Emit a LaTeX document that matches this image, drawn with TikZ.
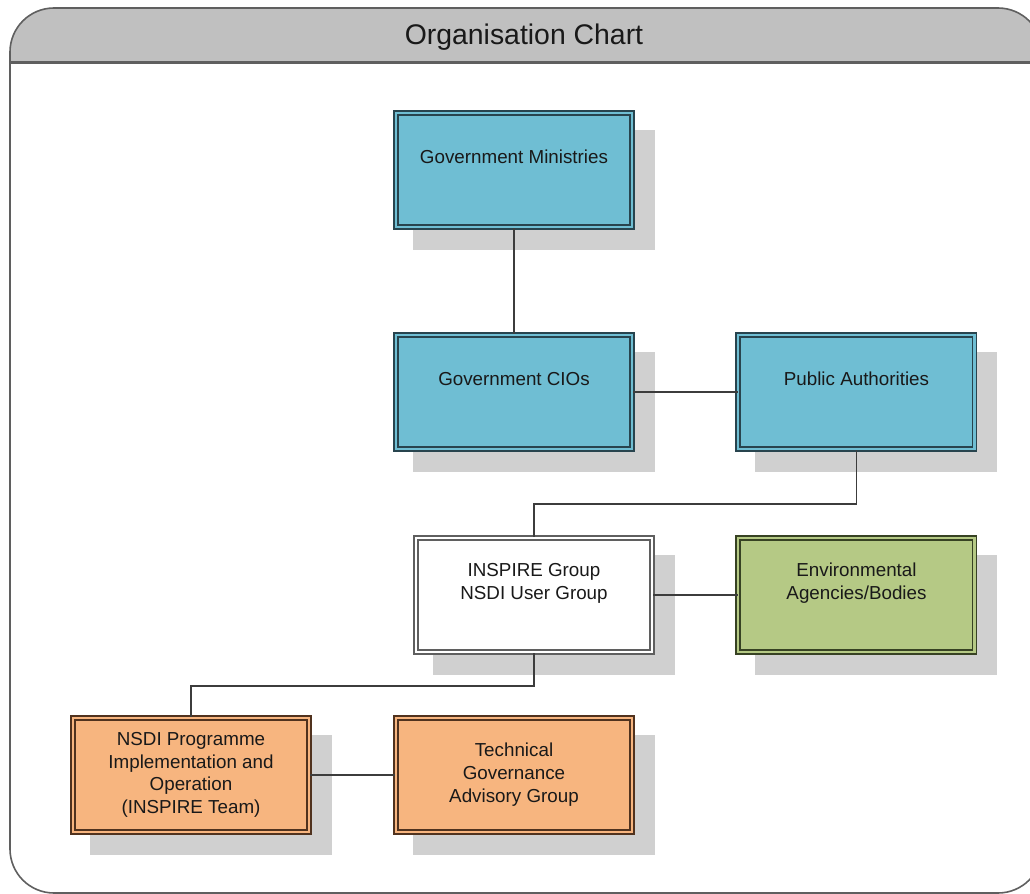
\documentclass[tikz,border=0pt]{standalone}
\usepackage{fontspec}
\setmainfont{Liberation Sans}
\usetikzlibrary{matrix,shadows}

\definecolor{ciblue}{RGB}{111,190,211}
\definecolor{ciblueline}{RGB}{40,68,78}
\definecolor{envgreen}{RGB}{181,201,133}
\definecolor{envline}{RGB}{55,66,35}
\definecolor{teamorange}{RGB}{247,181,127}
\definecolor{teamline}{RGB}{80,50,30}
\definecolor{shadowgray}{RGB}{208,208,208}
\definecolor{headgray}{RGB}{192,192,192}
\definecolor{framegray}{RGB}{95,95,95}
\definecolor{linkgray}{RGB}{60,60,60}

% lines of a box text (kept out of the matrix's own \\)
\newcommand{\orgtext}[1]{\begin{tabular}{@{}c@{}}#1\end{tabular}}

\tikzset{
  orgbox/.style={draw=#1, line width=0.8pt, double distance=1.2pt,
    anchor=center, minimum width=118.2pt, minimum height=57.2pt, inner sep=0pt,
    text=black!90, font=\fontsize{9.4}{11.4}\selectfont,
    drop shadow={shadow xshift=10pt, shadow yshift=-10pt, opacity=1,
      fill=shadowgray, draw=shadowgray, line width=2.8pt}},
  ministry/.style={orgbox=ciblueline, fill=ciblue, double=ciblue},
  usergroup/.style={orgbox=framegray, fill=white, double=white},
  agency/.style={orgbox=envline, fill=envgreen, double=envgreen},
  team/.style={orgbox=teamline, fill=teamorange, double=teamorange},
  link/.style={draw=linkgray, line width=0.75pt},
}

\begin{document}
\begin{tikzpicture}
\useasboundingbox (0,0) rectangle (515pt,-447pt);

% frame with title bar
\begin{scope}
  \clip (0,-31pt) rectangle (530pt,0);
  \fill[headgray, rounded corners=22pt] (5pt,-4pt) rectangle (521pt,-446.5pt);
\end{scope}
\draw[framegray, line width=0.8pt, rounded corners=22pt] (5pt,-4pt) rectangle (521pt,-446.5pt);
\draw[framegray, line width=1.5pt] (5pt,-31pt) -- (521pt,-31pt);
\node[font=\fontsize{14.2}{17}\selectfont, text=black!90] (title) at (262pt,-18.5pt) {Organisation Chart};

\matrix (chart) [matrix of nodes, column sep={161.5pt,between origins},
  row sep={91pt,between origins}, matrix anchor=gm.center] at (257pt,-85pt)
{
                              & |[ministry](gm)| \orgtext{Government Ministries\\\mbox{}} & \\[20pt]
                              & |[ministry](gc)| \orgtext{Government CIOs\\\mbox{}}
                                & |[ministry, xshift=9.75pt](pa)| \orgtext{Public Authorities\\\mbox{}} \\[9.5pt]
                              & |[usergroup, xshift=10pt, yshift=-1pt](inspire)| \orgtext{INSPIRE Group\\NSDI User Group\\\mbox{}}
                                & |[agency, xshift=9.75pt, yshift=-1pt](env)| \orgtext{Environmental\\Agencies/Bodies\\\mbox{}} \\
  |[team](nsdi)| \orgtext{NSDI Programme\\Implementation and\\Operation\\(INSPIRE Team)}
                              & |[team](tgag)| \orgtext{Technical\\Governance\\Advisory Group} & \\
};

\draw[link] (gm) -- (gc);
\draw[link] (gc) -- (pa);
\draw[link] (pa.south) -- ++(0,-27pt) -| (inspire.north);
\draw[link] (inspire) -- (env);
\draw[link] (inspire.south) -- ++(0,-16.5pt) -| (nsdi.north);
\draw[link] (nsdi) -- (tgag);

\end{tikzpicture}
\end{document}
